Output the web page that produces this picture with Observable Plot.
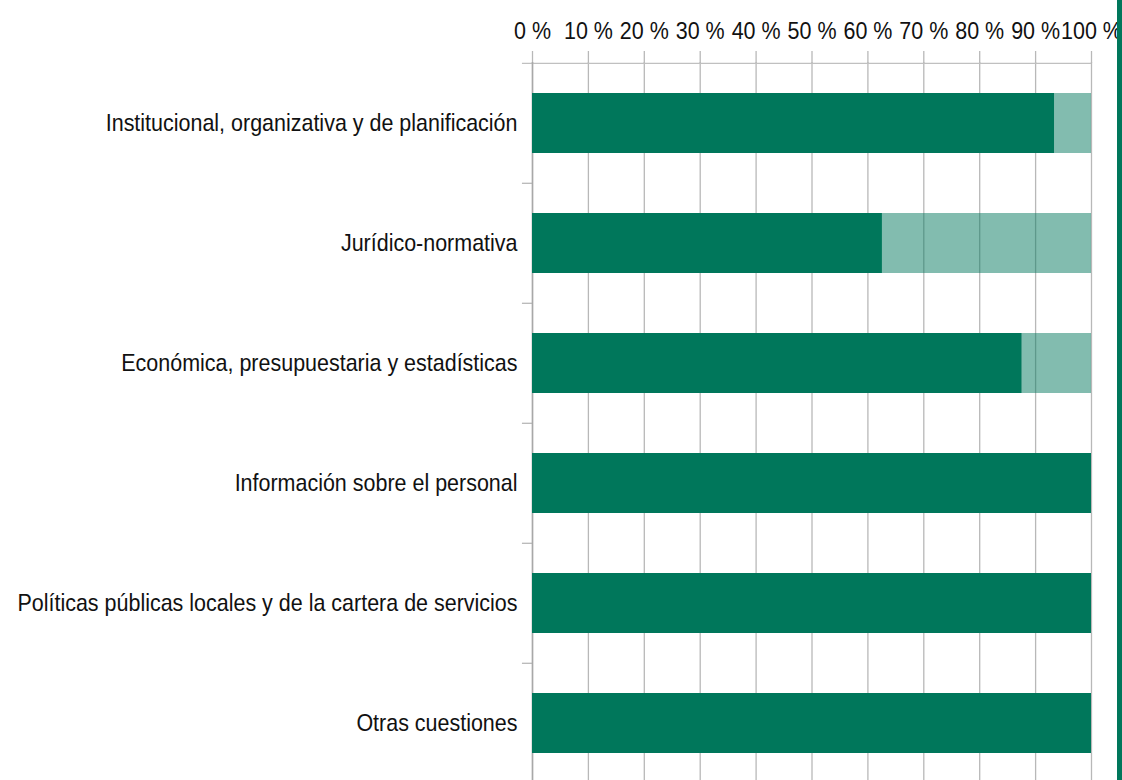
<!DOCTYPE html>
<html>
<head>
<meta charset="utf-8">
<script src="https://cdn.jsdelivr.net/npm/d3@7"></script>
<script src="https://cdn.jsdelivr.net/npm/@observablehq/plot@0.6"></script>
<style>
  html, body { margin: 0; padding: 0; background: #fff; }
  #wrap { position: relative; width: 1122px; height: 780px; overflow: hidden; }
  #edge { position: absolute; right: 0; top: 0; width: 5px; height: 780px; background: #00775b; }
</style>
</head>
<body>
<div id="wrap"><div id="chart"></div><div id="edge"></div></div>
<script>
const categories = [
  "Institucional, organizativa y de planificación",
  "Jurídico-normativa",
  "Económica, presupuestaria y estadísticas",
  "Información sobre el personal",
  "Políticas públicas locales y de la cartera de servicios",
  "Otras cuestiones"
];
const cumple = [93.4, 62.6, 87.6, 100, 100, 100];
const noCumple = [6.6, 37.4, 12.4, 0, 0, 0];
const xTicks = [0, 10, 20, 30, 40, 50, 60, 70, 80, 90, 100];

const data = [];
categories.forEach((c, i) => {
  data.push({cat: c, serie: "Sí", value: cumple[i]});
  data.push({cat: c, serie: "No", value: noCumple[i]});
});

const dark = "#00775b";
const font = "'Liberation Sans', Arial, sans-serif";

const chart = Plot.plot({
  width: 1122,
  height: 780,
  marginTop: 62,
  marginLeft: 532,
  marginRight: 31,
  marginBottom: 0,
  style: {fontFamily: font, fontSize: "24px", color: "#111", background: "#fff", overflow: "visible"},
  x: {domain: [0, 100], ticks: xTicks, tickFormat: d => d + " %"},
  y: {domain: categories, range: [62, 784], paddingInner: 0.5, paddingOuter: 0.25, align: 0.5},
  marks: [
    Plot.gridX(xTicks, {stroke: "#b8b8b8", strokeOpacity: 1, strokeWidth: 1.3}),
    Plot.axisX({anchor: "top", ticks: xTicks, tickSize: 12, tickPadding: 12, stroke: "#b8b8b8", strokeWidth: 1.3, fontSize: 24, fill: "#111", label: null, tickFormat: d => d + " %"}),
    Plot.ruleY([categories[0]], {x1: -1.8, x2: 100, dy: -60.2, stroke: "#c0c0c0", strokeWidth: 1.3}),
    Plot.ruleY(categories.slice(1), {x1: -1.8, x2: 0, dy: -60.2, stroke: "#b8b8b8", strokeWidth: 1.3}),
    Plot.ruleX([0], {stroke: "#a8a8a8", strokeWidth: 1.5}),
    Plot.barX(data, Plot.stackX({
      x: "value", y: "cat", z: "serie",
      fill: dark,
      fillOpacity: d => d.serie === "Sí" ? 1 : 0.49
    })),
    Plot.axisY({tickSize: 0, tickPadding: 15, fontSize: 24, fill: "#111", label: null})
  ]
});
// condense the glyphs (narrow face like the original)
chart.querySelectorAll('g[aria-label$="tick label"] text').forEach(t => {
  const tr = t.getAttribute("transform") || "";
  t.setAttribute("transform", tr + " scale(0.895,1)");
});
document.getElementById("chart").appendChild(chart);
</script>
</body>
</html>
